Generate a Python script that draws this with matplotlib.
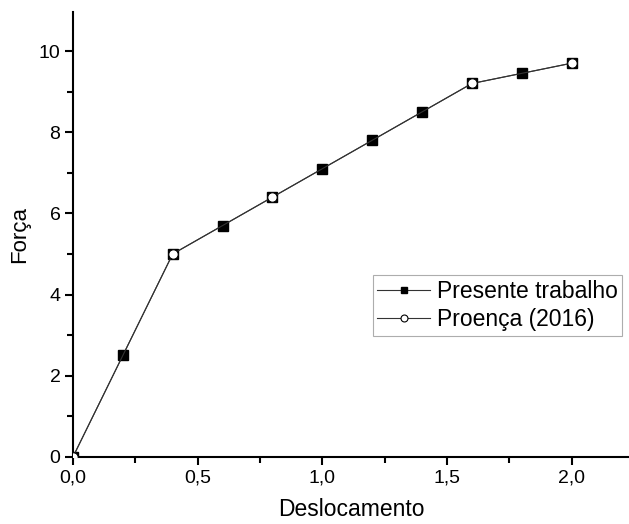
import matplotlib
matplotlib.use("Agg")
import matplotlib.pyplot as plt
from matplotlib.ticker import MultipleLocator, FuncFormatter

plt.rcParams['font.family'] = ['Liberation Sans', 'DejaVu Sans']

# Presente trabalho
x_presente = [0.0, 0.2, 0.4, 0.6, 0.8, 1.0, 1.2, 1.4, 1.6, 1.8, 2.0]
y_presente = [0.0, 2.5, 5.0, 5.7, 6.4, 7.1, 7.8, 8.5, 9.2, 9.45, 9.7]

# Proença (2016)
x_proenca = [0.0, 0.4, 0.8, 1.6, 2.0]
y_proenca = [0.0, 5.0, 6.4, 9.2, 9.7]


def main():
    fig = plt.figure(figsize=(6.29, 5.24), dpi=100)
    ax = fig.add_axes([0.116, 0.128, 0.884, 0.849])

    ax.plot(x_presente, y_presente, color='#333333', linewidth=0.8,
            marker='s', markersize=7.3, markerfacecolor='black',
            markeredgecolor='black', label='Presente trabalho', zorder=2)
    ax.plot(x_proenca, y_proenca, color='#333333', linewidth=0.8,
            marker='o', markersize=6.8, markerfacecolor='white',
            markeredgecolor='black', markeredgewidth=0.8,
            label='Proença (2016)', zorder=3)

    ax.set_xlim(0, 2.23)
    ax.set_ylim(0, 10.96)
    ax.xaxis.set_major_locator(MultipleLocator(0.5))
    ax.xaxis.set_minor_locator(MultipleLocator(0.25))
    ax.yaxis.set_major_locator(MultipleLocator(2))
    ax.yaxis.set_minor_locator(MultipleLocator(1))
    ax.xaxis.set_major_formatter(FuncFormatter(lambda v, p: f"{v:.1f}".replace('.', ',')))

    for s in ['top', 'right']:
        ax.spines[s].set_visible(False)
    for s in ['left', 'bottom']:
        ax.spines[s].set_linewidth(1.5)
    ax.tick_params(which='major', direction='out', length=6, width=1.5,
                   labelsize=14, pad=3)
    ax.tick_params(which='minor', direction='out', length=4, width=1.5)

    ax.set_xlabel('Deslocamento', fontsize=16.5, labelpad=8)
    ax.set_ylabel('Força', fontsize=16, labelpad=6)

    leg = ax.legend(loc='upper right', bbox_to_anchor=(0.988, 0.409),
                    fontsize=16.5, frameon=True, fancybox=False,
                    borderpad=0.2, handlelength=2.3, handletextpad=0.3,
                    labelspacing=0.25, borderaxespad=0)
    leg.get_frame().set_edgecolor('#999999')
    leg.get_frame().set_linewidth(0.8)
    for h in leg.legend_handles:
        h.set_markersize(5)

    fig.savefig("out.png", dpi=100)


if __name__ == "__main__":
    main()
